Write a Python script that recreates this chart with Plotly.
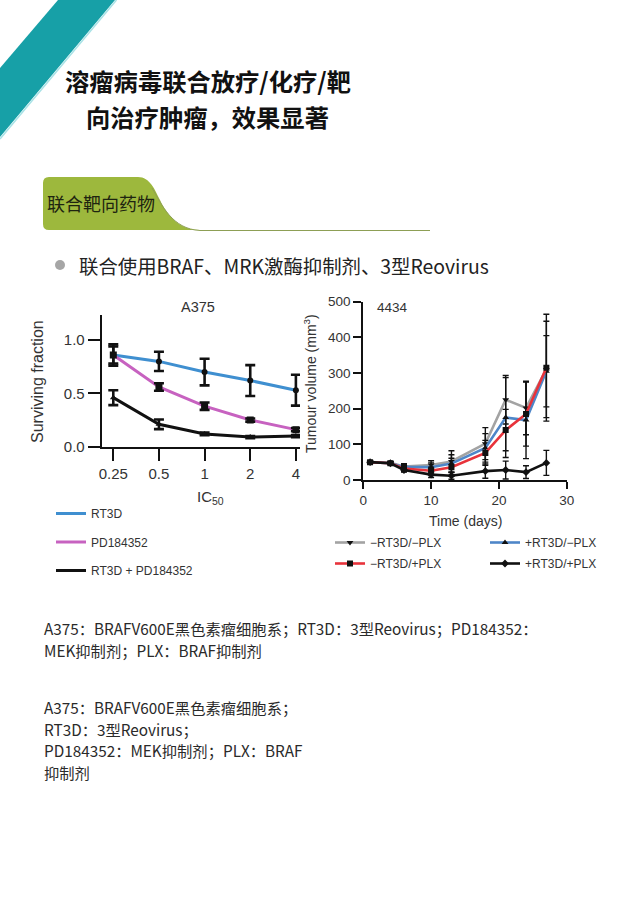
import plotly.graph_objects as go

W, H = 640, 906

# ---------------- data ----------------
ic50_levels = [0.25, 0.5, 1, 2, 4]
ic50_labels = ["0.25", "0.5", "1", "2", "4"]
rt3d_sf = [0.86, 0.80, 0.70, 0.62, 0.53]
rt3d_err = [0.08, 0.09, 0.125, 0.145, 0.145]
pd_sf = [0.86, 0.56, 0.38, 0.25, 0.16]
pd_err = [0.10, 0.035, 0.035, 0.015, 0.015]
combo_sf = [0.46, 0.21, 0.12, 0.09, 0.10]
combo_err = [0.07, 0.045, 0.012, 0.01, 0.01]

days = [1, 4, 6, 10, 13, 18, 21, 24, 27]
neg_neg = [50, 48, 38, 42, 52, 102, 225, 202, 310]
neg_neg_err = [4, 4, 8, 12, 30, 45, 68, 75, 135]
pos_neg = [50, 47, 36, 36, 46, 90, 175, 168, 305]
pos_neg_err = [4, 4, 8, 12, 25, 40, 112, 108, 100]
neg_pos = [50, 47, 32, 26, 36, 76, 140, 185, 315]
neg_pos_err = [4, 4, 8, 10, 25, 35, 58, 90, 150]
pos_pos = [50, 47, 28, 15, 12, 25, 28, 22, 48]
pos_pos_err = [4, 4, 6, 8, 10, 20, 25, 18, 35]

sf_ticks = [0, 0.5, 1.0]
sf_ticklabels = ["0.0", "0.5", "1.0"]
vol_ticks = [0, 100, 200, 300, 400, 500]
day_ticks = [0, 10, 20, 30]

# ---------------- helpers (pixel -> paper) ----------------
def px(x):
    return x / W

def py(y):
    return 1 - y / H

CHART_FONT = "Liberation Sans, Arial, sans-serif"
CJK_FONT = "Noto Sans CJK SC, Noto Sans, sans-serif"
TXT = "#333333"

fig = go.Figure()

# ---------------- left chart ----------------
left_series = [
    ("RT3D", rt3d_sf, rt3d_err, "#3f8fd0", "circle", 6),
    ("PD184352", pd_sf, pd_err, "#c762c0", "square", 7),
    ("RT3D + PD184352", combo_sf, combo_err, "#111111", "triangle-up", 6),
]
for name, ys, es, col, sym, ms in left_series:
    fig.add_trace(go.Scatter(
        x=ic50_levels, y=ys, mode="lines", name=name,
        line=dict(color=col, width=3), legend="legend", legendgroup=name,
        xaxis="x", yaxis="y", hoverinfo="skip"))
for name, ys, es, col, sym, ms in left_series:
    fig.add_trace(go.Scatter(
        x=ic50_levels, y=ys, mode="markers", name=name, showlegend=False,
        legendgroup=name,
        marker=dict(color="#111111", symbol=sym, size=ms),
        error_y=dict(type="data", array=es, color="#111111", thickness=2.6, width=5),
        xaxis="x", yaxis="y"))

# ---------------- right chart ----------------
right_series = [
    ("\u2212RT3D/\u2212PLX", neg_neg, neg_neg_err, "#a3a3a3", "triangle-down", "legend2"),
    ("+RT3D/\u2212PLX", pos_neg, pos_neg_err, "#4e86c8", "triangle-up", "legend3"),
    ("\u2212RT3D/+PLX", neg_pos, neg_pos_err, "#e8333b", "square", "legend2"),
    ("+RT3D/+PLX", pos_pos, pos_pos_err, "#111111", "diamond", "legend3"),
]
for name, ys, es, col, sym, lg in right_series:
    fig.add_trace(go.Scatter(
        x=days, y=ys, mode="lines+markers", name=name, legend=lg, legendgroup=name,
        line=dict(color=col, width=2.6),
        marker=dict(color="#111111", symbol=sym, size=6),
        error_y=dict(type="data", array=es, color="#111111", thickness=1.4, width=3),
        xaxis="x2", yaxis="y2"))

L = 0.30103
axis_common = dict(showline=True, linecolor="#111111", linewidth=2, ticks="outside",
                   tickcolor="#111111", tickwidth=2, showgrid=False, zeroline=False,
                   fixedrange=True, automargin=False)

fig.update_layout(
    template="none",
    width=W, height=H,
    margin=dict(l=0, r=0, t=0, b=0, pad=0, autoexpand=False),
    paper_bgcolor="white", plot_bgcolor="rgba(0,0,0,0)",
    font=dict(family=CHART_FONT, color=TXT),
    xaxis=dict(domain=[px(101.7), px(300)], type="log",
               range=[-2.254 * L, 2.09 * L],
               tickvals=ic50_levels, ticktext=ic50_labels, ticklen=12,
               tickfont=dict(size=15, color=TXT), anchor="y", **axis_common),
    yaxis=dict(domain=[py(446.7), py(315)], range=[0, 1.235],
               tickvals=sf_ticks, ticktext=sf_ticklabels, ticklen=12,
               tickfont=dict(size=15, color=TXT), anchor="x", **axis_common),
    xaxis2=dict(domain=[px(363.3), px(566.7)], range=[0, 30],
                tickvals=day_ticks, ticklen=7,
                tickfont=dict(size=13.5, color=TXT), anchor="y2", **axis_common),
    yaxis2=dict(domain=[py(480), py(301.7)], range=[0, 500],
                tickvals=vol_ticks, ticklen=8,
                tickfont=dict(size=13.5, color=TXT), anchor="x2", **axis_common),
    legend=dict(x=px(51), y=py(499), xanchor="left", yanchor="top",
                traceorder="grouped", tracegroupgap=9.5, itemwidth=30,
                font=dict(size=12, color=TXT, family=CHART_FONT),
                bgcolor="rgba(0,0,0,0)", borderwidth=0),
    legend2=dict(x=px(330), y=py(528), xanchor="left", yanchor="top",
                 traceorder="grouped", tracegroupgap=2, itemwidth=30,
                 font=dict(size=12, color=TXT, family=CHART_FONT),
                 bgcolor="rgba(0,0,0,0)", borderwidth=0),
    legend3=dict(x=px(485), y=py(528), xanchor="left", yanchor="top",
                 traceorder="grouped", tracegroupgap=2, itemwidth=30,
                 font=dict(size=12, color=TXT, family=CHART_FONT),
                 bgcolor="rgba(0,0,0,0)", borderwidth=0),
)

# ---------------- shapes (decor) ----------------
def ppath(cmds):
    out = []
    for c in cmds:
        if isinstance(c, str):
            out.append(c)
        else:
            out.append("%.5f,%.5f" % (px(c[0]), py(c[1])))
    return " ".join(out)

shapes = []
shapes.append(dict(type="path", xref="paper", yref="paper",
                   path=ppath(["M", (58, 0), "L", (115, 0), "L", (0, 137), "L", (0, 68), "Z"]),
                   fillcolor="#17a0a7", line=dict(width=0), layer="below"))
shapes.append(dict(type="line", xref="paper", yref="paper",
                   x0=px(116.5), y0=py(0), x1=px(0), y1=py(139),
                   line=dict(color="#a8e2e6", width=1.5), layer="below"))
shapes.append(dict(type="path", xref="paper", yref="paper",
                   path=ppath(["M", (49, 177), "L", (138, 177),
                               "C", (150, 177), (155, 190), (160, 200),
                               "C", (168, 217), (180, 230), (200, 230),
                               "L", (49, 230), "Q", (43, 230), (43, 224),
                               "L", (43, 183), "Q", (43, 177), (49, 177), "Z"]),
                   fillcolor="#9db83d", line=dict(width=0), layer="below"))
shapes.append(dict(type="path", xref="paper", yref="paper",
                   path=ppath(["M", (152, 188), "C", (162, 205), (172, 229), (200, 230.5),
                               "L", (430, 230.5)]),
                   line=dict(color="#8d9f55", width=1), layer="below"))
shapes.append(dict(type="circle", xref="paper", yref="paper",
                   x0=px(55), x1=px(65), y0=py(260), y1=py(270),
                   fillcolor="#a6a6a6", line=dict(width=0)))

fig.update_layout(shapes=shapes)

# ---------------- annotations ----------------
ann = []
def text(x, y, s, size, color="#222222", family=CJK_FONT, xanchor="left", bold=False, angle=0):
    if bold:
        s = "<b>" + s + "</b>"
    ann.append(dict(x=px(x), y=py(y), xref="paper", yref="paper", text=s,
                    showarrow=False, xanchor=xanchor, yanchor="middle", textangle=angle,
                    borderpad=0, font=dict(size=size, color=color, family=family)))

text(207.5, 80, "溶瘤病毒联合放疗/化疗/靶", 24.3, "#111111", xanchor="center", bold=True)
text(207.5, 116.7, "向治疗肿瘤，效果显著", 24.3, "#111111", xanchor="center", bold=True)
text(46, 203, "联合靶向药物", 18, "#1e2410")
text(78, 265, "联合使用BRAF、MRK激酶抑制剂、3型Reovirus", 19.4, "#222222")

text(42.5, 628, "A375：BRAFV600E黑色素瘤细胞系；RT3D：3型Reovirus；PD184352：", 15.3, "#2a2a2a")
text(42.5, 650, "MEK抑制剂；PLX：BRAF抑制剂", 15.3, "#2a2a2a")
text(42.5, 707, "A375：BRAFV600E黑色素瘤细胞系；", 15.3, "#2a2a2a")
text(42.5, 729, "RT3D：3型Reovirus；", 15.3, "#2a2a2a")
text(42.5, 750, "PD184352：MEK抑制剂；PLX：BRAF", 15.3, "#2a2a2a")
text(42.5, 772, "抑制剂", 15.3, "#2a2a2a")

text(198, 307, "A375", 14.5, TXT, CHART_FONT, xanchor="center")
text(210, 497, "IC<sub>50</sub>", 15, TXT, CHART_FONT, xanchor="center")
text(38, 382, "Surviving fraction", 16, TXT, CHART_FONT, xanchor="center", angle=-90)
text(392, 308, "4434", 13.5, TXT, CHART_FONT, xanchor="center")
text(465, 521, "Time (days)", 14, TXT, CHART_FONT, xanchor="center")
text(310, 384, "Tumour volume (mm<sup>3</sup>)", 14, TXT, CHART_FONT, xanchor="center", angle=-90)

fig.update_layout(annotations=ann)

fig.write_html("out.html", config={"displayModeBar": False},
               post_script="document.body.style.margin='0';")
